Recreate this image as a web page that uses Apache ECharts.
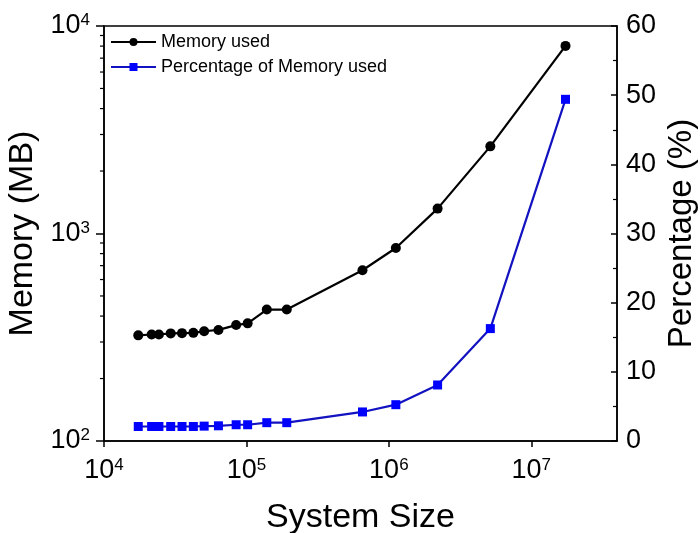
<!DOCTYPE html>
<html>
<head>
<meta charset="utf-8">
<script src="https://cdn.jsdelivr.net/npm/echarts@6/dist/echarts.min.js"></script>
<style>html,body{margin:0;padding:0;background:#fff;}#c{width:700px;height:533px;}</style>
</head>
<body>
<div id="c"></div>
<script>
// ---- data ----
const systemSize = [1.74e4, 2.16e4, 2.43e4, 2.94e4, 3.53e4, 4.24e4, 5.05e4, 6.36e4, 8.47e4, 1.02e5, 1.39e5, 1.92e5, 6.53e5, 1.12e6, 2.20e6, 5.16e6, 1.74e7];
const memoryUsed = [323, 326, 326, 330, 331, 332, 338, 343, 362, 369, 430, 430, 665, 851, 1318, 2630, 8020];
const percentUsed = [2.1, 2.1, 2.1, 2.1, 2.1, 2.1, 2.15, 2.2, 2.35, 2.35, 2.65, 2.65, 4.2, 5.25, 8.1, 16.25, 49.4];
const seriesNames = ['Memory used', 'Percentage of Memory used'];
const xTitle = 'System Size';
const yLeftTitle = 'Memory (MB)';
const yRightTitle = 'Percentage (%)';
const memMinorTicks = [200, 300, 400, 500, 600, 700, 800, 900, 2000, 3000, 4000, 5000, 6000, 7000, 8000, 9000];

const FONT = '"Liberation Sans", Arial, sans-serif';
const supFmt = v => '{b|10}{s|' + Math.round(Math.log10(v)) + '}';
const richSup = {
  b: { fontSize: 27, fontFamily: FONT, color: '#000' },
  s: { fontSize: 17, fontFamily: FONT, color: '#000', verticalAlign: 'top', padding: [0, 0, 11, 0] }
};

const chart = echarts.init(document.getElementById('c'), null, { renderer: 'canvas' });
chart.setOption({
  animation: false,
  backgroundColor: '#fff',
  grid: { left: 104, right: 83, top: 26, bottom: 92, containLabel: false, outerBoundsMode: 'none', show: true, borderColor: '#000', borderWidth: 1.5, backgroundColor: 'transparent' },
  legend: {
    data: seriesNames,
    orient: 'vertical',
    left: 110, top: 33, padding: 0,
    itemWidth: 45, itemHeight: 10, itemGap: 7,
    textStyle: { fontSize: 18, fontFamily: FONT, color: '#000' }
  },
  xAxis: {
    type: 'log', logBase: 10, min: 1e4, max: 4e7, interval: 1,
    name: xTitle, nameLocation: 'middle', nameGap: 60,
    nameTextStyle: { fontSize: 34, fontFamily: FONT, color: '#000' },
    axisLine: { lineStyle: { color: '#000', width: 1.5 } },
    axisTick: { show: true, length: 6, lineStyle: { color: '#000', width: 1.5 } },
    splitLine: { show: false },
    axisLabel: { formatter: supFmt, rich: richSup, margin: 16, showMaxLabel: false }
  },
  yAxis: [
    {
      type: 'log', logBase: 10, min: 100, max: 10000, interval: 1,
      name: yLeftTitle, nameLocation: 'middle', nameGap: 64, nameRotate: 90, nameMoveOverlap: false,
      nameTextStyle: { fontSize: 34, fontFamily: FONT, color: '#000' },
      axisLine: { lineStyle: { color: '#000', width: 1.5 } },
      axisTick: { show: true, length: 8, lineStyle: { color: '#000', width: 1.5 } },
      splitLine: { show: false },
      axisLabel: { formatter: supFmt, rich: richSup, margin: 14 }
    },
    {
      type: 'value', min: 0, max: 60, interval: 10, position: 'right',
      name: yRightTitle, nameLocation: 'middle', nameGap: 48, nameRotate: 90, nameMoveOverlap: false,
      nameTextStyle: { fontSize: 33, fontFamily: FONT, color: '#000' },
      axisLine: { show: true, lineStyle: { color: '#000', width: 1.5 } },
      axisTick: { show: true, inside: true, length: 6, lineStyle: { color: '#000', width: 1.5 } },
      minorTick: { show: true, splitNumber: 2, length: 4, lineStyle: { color: '#000', width: 1.2 } },
      splitLine: { show: false },
      axisLabel: { fontSize: 27, fontFamily: FONT, color: '#000', margin: 9 }
    }
  ],
  series: [
    {
      name: seriesNames[0], type: 'line', yAxisIndex: 0,
      data: systemSize.map((x, i) => [x, memoryUsed[i]]),
      symbol: 'circle', symbolSize: 10,
      lineStyle: { color: '#000', width: 2.2 },
      itemStyle: { color: '#000' },
      z: 3
    },
    {
      name: seriesNames[1], type: 'line', yAxisIndex: 1,
      data: systemSize.map((x, i) => [x, percentUsed[i]]),
      symbol: 'rect', symbolSize: 9,
      lineStyle: { color: '#1212c0', width: 2.2 },
      itemStyle: { color: '#0000ff' },
      z: 3
    },
    {
      name: 'minorTicks', type: 'custom', yAxisIndex: 0, silent: true, clip: false,
      data: memMinorTicks.map(v => [1e4, v]),
      renderItem: (params, api) => {
        const p = api.coord([api.value(0), api.value(1)]);
        return { type: 'line', shape: { x1: p[0] - 4, y1: p[1], x2: p[0], y2: p[1] }, style: { stroke: '#000', lineWidth: 1.2 } };
      }
    }
  ]
});
</script>
</body>
</html>
